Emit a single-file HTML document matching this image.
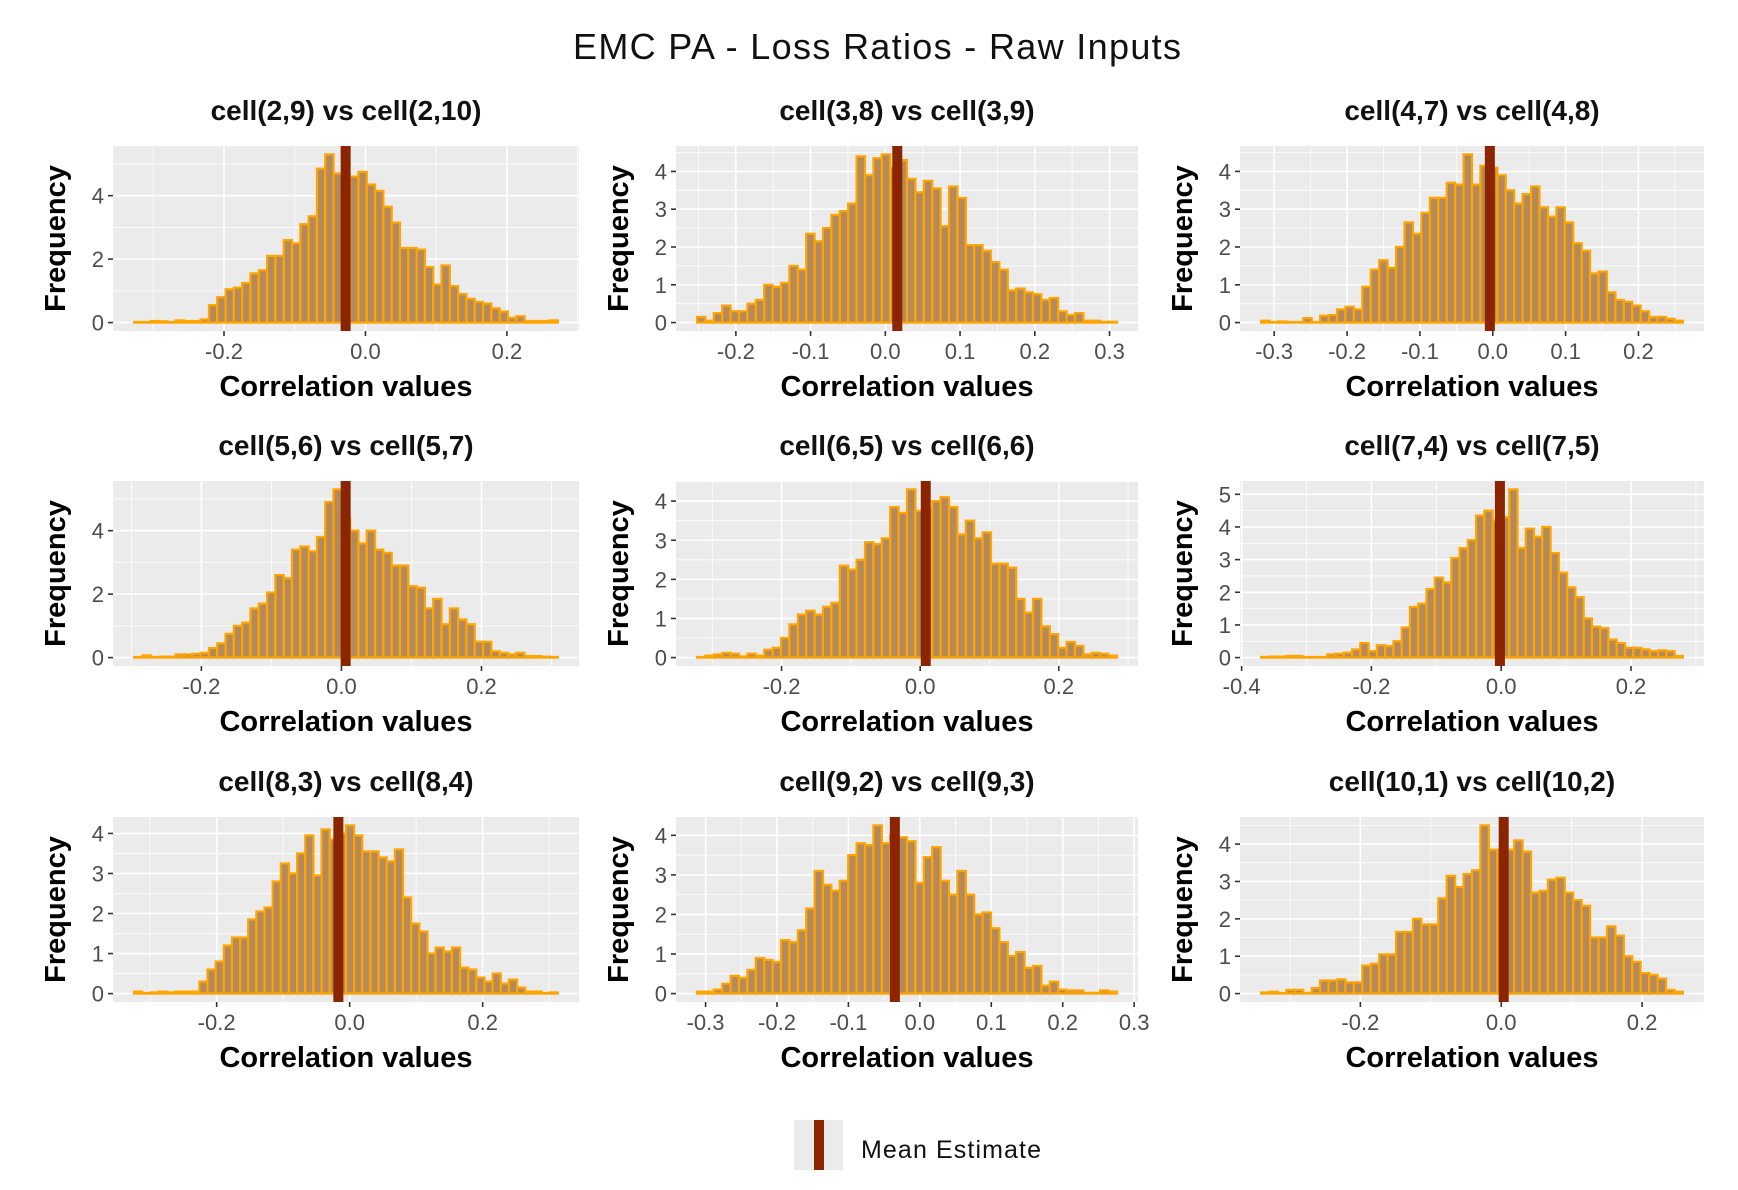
<!DOCTYPE html>
<html><head><meta charset="utf-8">
<style>
html,body{margin:0;padding:0;background:#fff;}
svg{display:block;font-family:"Liberation Sans","DejaVu Sans",sans-serif;}
</style></head>
<body>
<svg id="chart" width="1738" height="1190" viewBox="0 0 1738 1190" xmlns="http://www.w3.org/2000/svg">
<text x="877" y="59" text-anchor="middle" font-size="36" textLength="608" fill="#111">EMC PA - Loss Ratios - Raw Inputs</text>
<g id="panels"></g>
<g>
<rect x="794" y="1120" width="49" height="50" fill="#ebebeb"/>
<rect x="814" y="1120" width="10" height="50" fill="#8b2500"/>
<text x="861" y="1158" font-size="25" textLength="180" fill="#111">Mean Estimate</text>
</g>
</svg>
<script>
const titles = ["cell(2,9) vs cell(2,10)","cell(3,8) vs cell(3,9)","cell(4,7) vs cell(4,8)","cell(5,6) vs cell(5,7)","cell(6,5) vs cell(6,6)","cell(7,4) vs cell(7,5)","cell(8,3) vs cell(8,4)","cell(9,2) vs cell(9,3)","cell(10,1) vs cell(10,2)"];
const binStart = [-0.327,-0.252,-0.318,-0.296,-0.322,-0.37,-0.324,-0.312,-0.341];
const binEnd = [0.272,0.310,0.261,0.309,0.284,0.28,0.313,0.276,0.258];
const means = [-0.028,0.016,-0.004,0.006,0.008,-0.002,-0.017,-0.035,0.0035];
const counts1 = [0.02,0,0.05,0.04,0.02,0.07,0.05,0.05,0.1,0.55,0.8,1.05,1.1,1.25,1.55,1.65,2.1,2.1,2.6,2.5,3.1,3.35,4.85,5.3,4.7,4.1,4.6,4.75,4.35,4.15,3.65,3.15,2.35,2.35,2.3,1.75,1.2,1.8,1.15,0.9,0.75,0.65,0.6,0.45,0.35,0.15,0.2,0.05,0.05,0.05,0.07];
const counts2 = [0.15,0.05,0.25,0.45,0.3,0.3,0.5,0.6,1.0,0.95,1.05,1.5,1.4,2.35,2.15,2.5,2.85,2.95,3.15,4.4,3.9,4.35,4.45,4.1,4.3,3.8,3.45,3.75,3.55,2.55,3.6,3.3,2.05,2.05,1.9,1.6,1.4,0.85,0.9,0.8,0.75,0.6,0.65,0.3,0.2,0.25,0.05,0.05,0.02,0.02];
const counts3 = [0.05,0,0.03,0,0,0.12,0,0.18,0.2,0.35,0.42,0.35,0.95,1.4,1.65,1.45,2.0,2.65,2.35,2.9,3.3,3.3,3.7,3.65,4.45,3.65,4.15,4.1,3.9,3.5,3.15,3.4,3.6,3.05,2.8,3.05,2.65,2.1,1.9,1.3,1.35,0.8,0.6,0.55,0.45,0.3,0.15,0.15,0.1,0.05];
const counts4 = [0,0.07,0,0.03,0.03,0.1,0.1,0.12,0.15,0.3,0.45,0.75,1.0,1.1,1.55,1.7,2.05,2.6,2.5,3.4,3.5,3.35,3.8,4.9,5.3,4.4,4.0,3.6,4.0,3.4,3.3,2.9,2.9,2.25,2.2,1.55,1.85,1.05,1.55,1.2,1.05,0.5,0.5,0.2,0.15,0.1,0.15,0.05,0.05,0.03,0.02];
const counts5 = [0,0.05,0.08,0.12,0.1,0.03,0.1,0.05,0.2,0.25,0.5,0.85,1.1,1.2,1.1,1.3,1.4,2.35,2.25,2.5,2.95,2.9,3.05,3.85,3.7,4.3,3.75,3.8,4.0,4.1,3.85,3.15,3.5,3.05,3.2,2.4,2.4,2.3,1.5,1.15,1.5,0.8,0.6,0.25,0.4,0.3,0.08,0.12,0.1,0.05];
const counts6 = [0.02,0.03,0.03,0.05,0.05,0,0,0,0.1,0.12,0.15,0.25,0.45,0.2,0.38,0.35,0.5,0.92,1.55,1.65,2.1,2.45,2.3,3.05,3.35,3.6,4.35,4.5,4.2,4.3,5.15,3.35,3.95,3.7,4.0,3.2,2.6,2.15,1.85,1.2,0.95,0.9,0.55,0.45,0.3,0.3,0.25,0.2,0.22,0.2,0.05];
const counts7 = [0.05,0,0.03,0.05,0.03,0.05,0.05,0.05,0.3,0.6,0.8,1.2,1.4,1.4,1.85,2.05,2.15,2.8,3.25,3.0,3.5,3.95,2.95,4.1,3.85,4.0,4.2,3.95,3.55,3.55,3.4,3.3,3.6,2.4,1.75,1.55,1.0,1.15,1.05,1.15,0.65,0.6,0.4,0.3,0.5,0.25,0.35,0.15,0.05,0.05,0,0.03];
const counts8 = [0.05,0.05,0.1,0.25,0.45,0.4,0.6,0.9,0.85,0.8,1.35,1.3,1.6,2.15,3.1,2.75,2.6,2.85,3.5,3.8,3.75,4.25,3.8,4.0,3.95,3.85,2.8,3.45,3.7,2.85,2.5,3.1,2.5,2.0,2.05,1.65,1.3,0.95,1.05,0.65,0.7,0.2,0.3,0.1,0.08,0.08,0.02,0.02,0.08,0.05];
const counts9 = [0.03,0.05,0,0.1,0.1,0.02,0.15,0.35,0.35,0.38,0.3,0.3,0.75,0.8,1.05,1.05,1.65,1.65,2.0,1.85,1.85,2.55,3.15,2.85,3.2,3.3,4.5,3.85,3.85,3.85,4.1,3.8,2.7,2.75,3.05,3.1,2.7,2.5,2.35,1.5,1.5,1.8,1.55,1.0,0.85,0.55,0.5,0.4,0.1,0.05];
const allCounts = [counts1,counts2,counts3,counts4,counts5,counts6,counts7,counts8,counts9];
const xTicks1 = [-0.2,0,0.2];
const xTicks2 = [-0.2,-0.1,0,0.1,0.2,0.3];
const xTicks3 = [-0.3,-0.2,-0.1,0,0.1,0.2];
const xTicks4 = [-0.2,0,0.2];
const xTicks5 = [-0.2,0,0.2];
const xTicks6 = [-0.4,-0.2,0,0.2];
const xTicks7 = [-0.2,0,0.2];
const xTicks8 = [-0.3,-0.2,-0.1,0,0.1,0.2,0.3];
const xTicks9 = [-0.2,0,0.2];
const allXTicks = [xTicks1,xTicks2,xTicks3,xTicks4,xTicks5,xTicks6,xTicks7,xTicks8,xTicks9];
const yTicks1 = [0,2,4];
const yTicks2 = [0,1,2,3,4];
const yTicks3 = [0,1,2,3,4];
const yTicks4 = [0,2,4];
const yTicks5 = [0,1,2,3,4];
const yTicks6 = [0,1,2,3,4,5];
const yTicks7 = [0,1,2,3,4];
const yTicks8 = [0,1,2,3,4];
const yTicks9 = [0,1,2,3,4];
const allYTicks = [yTicks1,yTicks2,yTicks3,yTicks4,yTicks5,yTicks6,yTicks7,yTicks8,yTicks9];

const NS = "http://www.w3.org/2000/svg";
const colL = [113,676,1240], colW = [466,462,464];
const rowT = [146,481,817], PH = 185;
function mk(tag, attrs, parent){const e=document.createElementNS(NS,tag);for(const k in attrs)e.setAttribute(k,attrs[k]);parent.appendChild(e);return e;}
function fmt(v){ if(Math.abs(v)<1e-9) return "0.0"; return v.toFixed(1); }
const root = document.getElementById('panels');
for(let p=0;p<9;p++){
  const L=colL[p%3], W=colW[p%3], T=rowT[Math.floor(p/3)];
  const counts=allCounts[p], n=counts.length;
  const x0=binStart[p], x1=binEnd[p], span=x1-x0;
  const xmin=x0-0.05*span, xmax=x1+0.05*span;
  const cmax=Math.max(...counts);
  const ymin=-0.05*cmax, ymax=cmax*1.05;
  const sx=v=>L+(v-xmin)/(xmax-xmin)*W;
  const sy=v=>T+PH-(v-ymin)/(ymax-ymin)*PH;
  const g=mk('g',{},root);
  
  
  const bg=mk('rect',{x:L,y:T,width:W,height:PH,fill:'#ebebeb'},g);
  
  
  const xt=allXTicks[p], yt=allYTicks[p];
  const xstep=xt[1]-xt[0], ystep=yt[1]-yt[0];
  for(let v=xt[0]-xstep/2; v<=xmax; v+=xstep){ if(v>=xmin){const l=mk('line',{x1:sx(v),x2:sx(v),y1:T,y2:T+PH,stroke:'#fff','stroke-width':0.8},g);}}
  for(let v=yt[0]+ystep/2; v<=ymax; v+=ystep){const l=mk('line',{x1:L,x2:L+W,y1:sy(v),y2:sy(v),stroke:'#fff','stroke-width':0.8},g);}
  xt.forEach(v=>{
    const l=mk('line',{x1:sx(v),x2:sx(v),y1:T,y2:T+PH,stroke:'#fff','stroke-width':1.6},g);
    
    
    const tk=mk('line',{x1:sx(v),x2:sx(v),y1:T+PH,y2:T+PH+5,stroke:'#333','stroke-width':1.6},g);
    
    
    const t=mk('text',{x:sx(v),y:T+PH+28,'text-anchor':'middle','font-size':22,fill:'#4d4d4d'},g);
    
    
    t.textContent=fmt(v);
  });
  yt.forEach(v=>{
    const l=mk('line',{x1:L,x2:L+W,y1:sy(v),y2:sy(v),stroke:'#fff','stroke-width':1.6},g);
    
    
    const tk=mk('line',{x1:L-5,x2:L,y1:sy(v),y2:sy(v),stroke:'#333','stroke-width':1.6},g);
    
    
    const t=mk('text',{x:L-9,y:sy(v)+8,'text-anchor':'end','font-size':22,fill:'#4d4d4d'},g);
    
    
    t.textContent=String(v);
  });
  const bw=span/n;
  counts.forEach((c,i)=>{
    const a=sx(x0+i*bw), b=sx(x0+(i+1)*bw);
    const h=Math.max(sy(0)-sy(c),0.6);
    const r=mk('rect',{x:a,y:sy(0)-h,width:b-a,height:h,fill:'#b4895c',stroke:'#ffa500','stroke-width':2.2},g);
    
    
  });
  const m=mk('rect',{x:sx(means[p])-5,y:T,width:10,height:PH,fill:'#8b2500'},g);
  
  
  const pt=mk('text',{x:L+W/2,y:T-26,'text-anchor':'middle','font-size':28,'font-weight':'bold',fill:'#111'},g);
  
  
  pt.textContent=titles[p];
  const xa=mk('text',{x:L+W/2,y:T+PH+65,'text-anchor':'middle','font-size':29,'font-weight':'bold',fill:'#000'},g);
  
  
  xa.textContent='Correlation values';
  const cy=T+PH/2, cx=L-48;
  const ya=mk('text',{x:cx,y:cy,'text-anchor':'middle','font-size':29,'font-weight':'bold',fill:'#000',transform:'rotate(-90 '+cx+' '+cy+')'},g);
  
  
  ya.textContent='Frequency';
}
</script>
</body></html>
